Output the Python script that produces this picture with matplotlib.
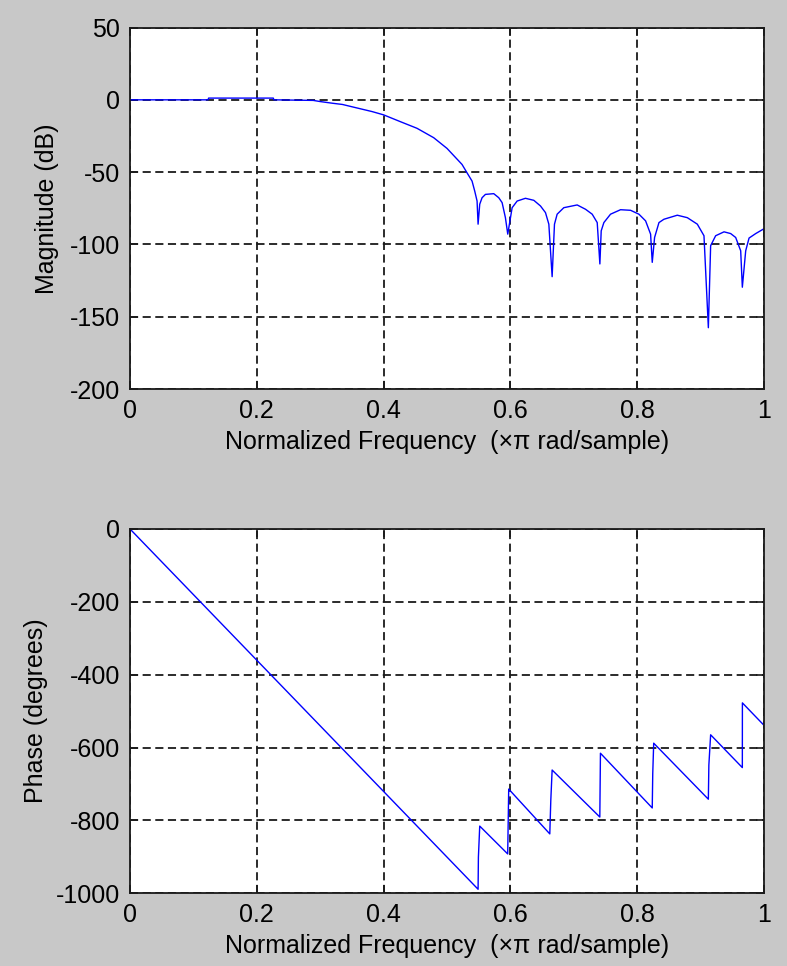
import matplotlib
matplotlib.use('Agg')
import matplotlib.pyplot as plt

# magnitude response (normalized freq, dB)
mag_f = [0.0, 0.123, 0.124, 0.226, 0.227, 0.289, 0.30, 0.32, 0.335, 0.352,
         0.3816, 0.40, 0.4264, 0.4527, 0.479, 0.50, 0.5237, 0.5316, 0.5395,
         0.5437, 0.5474,
         0.549, 0.5516, 0.5553, 0.5606, 0.5737, 0.5816, 0.5869, 0.5921, 0.5958,
         0.6027, 0.6106, 0.6237, 0.6369, 0.6474, 0.6553, 0.6606, 0.6658,
         0.6695, 0.6737, 0.6842, 0.7053, 0.7185, 0.729, 0.7369, 0.7411,
         0.7432, 0.7474, 0.7579, 0.7737, 0.7895, 0.8027, 0.8132, 0.8211, 0.8237,
         0.8274, 0.8343, 0.8421, 0.8632, 0.879, 0.8948, 0.9053, 0.9122,
         0.9158, 0.9237, 0.9369, 0.9474, 0.9553, 0.9632, 0.9658,
         0.9711, 0.9764, 0.9869, 0.999, 1.0]
mag_db = [0.0, 0.0, 1.2, 1.2, 0.0, -0.4, -1.2, -2.4, -3.2, -5.0,
          -8.1, -10.4, -15.1, -19.7, -26.2, -33.6, -44.7, -50.5, -56.2,
          -63.1, -70.0,
          -86.0, -72.2, -67.7, -65.4, -64.9, -67.7, -71.1, -81.5, -92.9,
          -74.6, -70.0, -68.1, -69.5, -73.4, -78.0, -86.0, -122.3,
          -86.0, -79.1, -74.6, -72.7, -75.7, -79.1, -84.9, -113.5,
          -90.6, -84.9, -79.1, -76.0, -76.4, -79.1, -83.7, -92.9, -112.4,
          -95.2, -84.9, -82.6, -79.8, -81.5, -86.0, -94.0, -157.6,
          -100.9, -94.0, -91.3, -92.5, -95.2, -104.4, -129.6,
          -104.4, -95.6, -92.5, -89.4, -89.0]

# phase response (normalized freq, degrees)
ph_f = [0.0, 0.549, 0.5495, 0.5516, 0.5957, 0.5973, 0.6621, 0.6637,
        0.6658, 0.741, 0.742, 0.8237, 0.8245, 0.826, 0.9122, 0.913,
        0.9158, 0.9658, 0.9659, 1.0]
ph_deg = [0.0, -989.0, -901.0, -815.6, -892.0, -714.0, -837.0, -744.6,
          -661.7, -790.7, -615.6, -765.8, -671.0, -588.0, -741.8, -648.0,
          -565.0, -655.0, -477.4, -539.0]

xticks = [0, 0.2, 0.4, 0.6, 0.8, 1.0]
xticklabels = ['0', '0.2', '0.4', '0.6', '0.8', '1']
xlab = 'Normalized Frequency  (\u00d7\u03c0 rad/sample)'

plt.rcParams['font.family'] = ['Liberation Sans', 'DejaVu Sans']
plt.rcParams['font.size'] = 18
plt.rcParams['axes.unicode_minus'] = False

fig = plt.figure(figsize=(7.87, 9.66), dpi=100, facecolor='#c8c8c8')
ax1 = fig.add_axes([0.1652, 0.5973, 0.8056, 0.3742])
ax2 = fig.add_axes([0.1652, 0.0753, 0.8056, 0.3771])


def style(ax):
    ax.set_facecolor('white')
    ax.set_xlim(0, 1)
    ax.set_xticks(xticks)
    ax.set_xticklabels(xticklabels)
    ax.grid(True, color='#1a1a1a', linestyle=(0, (4.5, 2.5)), linewidth=1.3)
    ax.tick_params(direction='in', length=6, width=1.2, pad=7,
                   top=True, right=True, colors='#1a1a1a', labelcolor='black')
    for s in ax.spines.values():
        s.set_linewidth(1.3)
        s.set_color('#1a1a1a')
    ax.set_xlabel(xlab, labelpad=5)


ax1.plot(mag_f, mag_db, color='#0000ff', linewidth=1.0)
ax1.set_ylim(-200, 50)
ax1.set_yticks([-200, -150, -100, -50, 0, 50])
ax1.set_ylabel('Magnitude (dB)', labelpad=8)
style(ax1)

ax2.plot(ph_f, ph_deg, color='#0000ff', linewidth=1.0)
ax2.set_ylim(-1000, 0)
ax2.set_yticks([-1000, -800, -600, -400, -200, 0])
ax2.set_ylabel('Phase (degrees)', labelpad=6)
style(ax2)

fig.savefig('out.png', dpi=100, facecolor=fig.get_facecolor())
